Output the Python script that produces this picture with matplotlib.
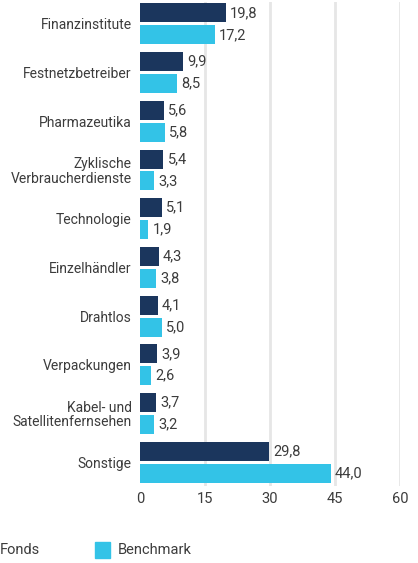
import numpy as np
import matplotlib
matplotlib.use('Agg')
import matplotlib.pyplot as plt
from matplotlib.patches import Rectangle

plt.rcParams['font.family'] = ['DejaVu Sans Condensed', 'Roboto', 'DejaVu Sans']

categories = ['Finanzinstitute', 'Festnetzbetreiber', 'Pharmazeutika',
              'Zyklische\nVerbraucherdienste', 'Technologie', 'Einzelhändler',
              'Drahtlos', 'Verpackungen', 'Kabel- und\nSatellitenfernsehen',
              'Sonstige']
fonds = [19.8, 9.9, 5.6, 5.4, 5.1, 4.3, 4.1, 3.9, 3.7, 29.8]
benchmark = [17.2, 8.5, 5.8, 3.3, 1.9, 3.8, 5.0, 2.6, 3.2, 44.0]
xticks = [0, 15, 30, 45, 60]

DARK = '#1b365d'
LIGHT = '#33c3e7'
TEXT = '#3c3c3c'

fig = plt.figure(figsize=(4.18, 5.63), dpi=100)
ax = fig.add_axes([140 / 418, 1 - 486 / 563, 260 / 418, 484 / 563])

y = np.arange(len(categories))
h = 0.39
ax.barh(y - 0.225, fonds, height=h, color=DARK, zorder=3)
ax.barh(y + 0.225, benchmark, height=h, color=LIGHT, zorder=3)

for yi, v in zip(y, fonds):
    ax.annotate(f'{v:.1f}'.replace('.', ','), (v, yi - 0.225), xytext=(3, 0),
                textcoords='offset points', va='center', ha='left',
                fontsize=10.5, color=TEXT)
for yi, v in zip(y, benchmark):
    ax.annotate(f'{v:.1f}'.replace('.', ','), (v, yi + 0.225), xytext=(3, 0),
                textcoords='offset points', va='center', ha='left',
                fontsize=10.5, color=TEXT)

ax.set_xlim(0, 60)
ax.set_ylim(9.49, -0.45)
ax.set_xticks(xticks)
ax.set_xticklabels([str(t) for t in xticks], fontsize=10.5, color=TEXT)
ax.set_yticks(y)
ax.set_yticklabels(categories, fontsize=10, color=TEXT, linespacing=1.05)
ax.tick_params(axis='both', length=0)
ax.tick_params(axis='y', pad=6)
ax.tick_params(axis='x', pad=4)
for s in ax.spines.values():
    s.set_visible(False)
for t in xticks[1:]:
    ax.axvline(t, color='#e6e6e6', linewidth=2, zorder=1)

# legend along the bottom
fig.text(0 / 418, 1 - 550 / 563, 'Fonds', fontsize=10.5, color=TEXT,
         ha='left', va='center')
fig.patches.append(Rectangle((95 / 418, 1 - 558 / 563), 15 / 418, 16 / 563,
                             transform=fig.transFigure, color=LIGHT))
fig.text(118 / 418, 1 - 550 / 563, 'Benchmark', fontsize=10.5, color=TEXT,
         ha='left', va='center')

fig.savefig('out.png', dpi=100)
